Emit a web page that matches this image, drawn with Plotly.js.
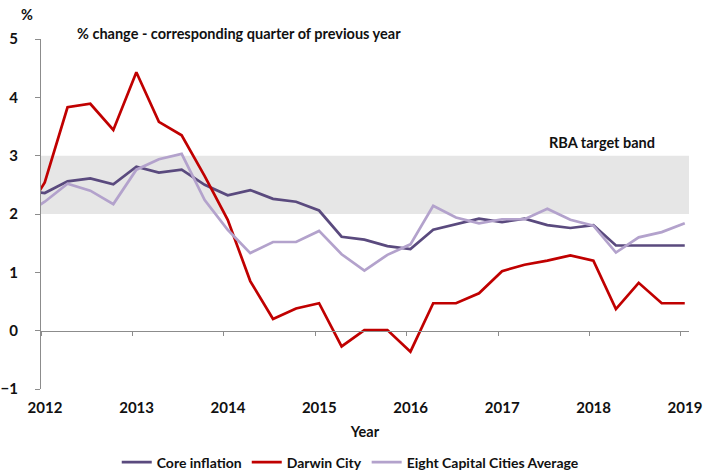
<!DOCTYPE html>
<html>
<head>
<meta charset="utf-8">
<script src="https://cdn.plot.ly/plotly-3.0.1.min.js"></script>
<style>html,body{margin:0;padding:0;background:#fff;}#chart{width:713px;height:474px;}</style>
</head>
<body>
<div id="chart"></div>
<script>
// Quarterly observations (Dec 2011 quarter first, plotted mid-month)
const quarters = [
  '2011-10-16',
  '2012-01-16','2012-04-16','2012-07-16','2012-10-16',
  '2013-01-16','2013-04-16','2013-07-16','2013-10-16',
  '2014-01-16','2014-04-16','2014-07-16','2014-10-16',
  '2015-01-16','2015-04-16','2015-07-16','2015-10-16',
  '2016-01-16','2016-04-16','2016-07-16','2016-10-16',
  '2017-01-16','2017-04-16','2017-07-16','2017-10-16',
  '2018-01-16','2018-04-16','2018-07-16','2018-10-16',
  '2019-01-16'
];
const coreInflation = [2.40,
  2.36,2.56,2.61,2.51, 2.81,2.71,2.76,2.50, 2.32,2.41,2.26,2.21,
  2.06,1.61,1.56,1.45, 1.40,1.73,1.82,1.92, 1.86,1.92,1.81,1.76,
  1.81,1.46,1.46,1.46, 1.46];
const darwinCity = [1.92,
  2.54,3.83,3.89,3.44, 4.43,3.58,3.35,2.65, 1.90,0.85,0.20,0.38,
  0.47,-0.27,0.01,0.01, -0.36,0.47,0.47,0.64, 1.02,1.13,1.20,1.29,
  1.20,0.37,0.82,0.47, 0.47];
const eightCapitals = [1.95,
  2.21,2.52,2.40,2.17, 2.76,2.94,3.03,2.24, 1.73,1.33,1.52,1.52,
  1.71,1.31,1.03,1.30, 1.48,2.14,1.94,1.84, 1.91,1.91,2.09,1.90,
  1.80,1.34,1.60,1.69, 1.84];
const seriesNames = ['Core inflation','Darwin City','Eight Capital Cities Average'];
const yearTicks = ['2012-01-01','2013-01-01','2014-01-01','2015-01-01','2016-01-01','2017-01-01','2018-01-01','2019-01-01'];
const yearLabels = ['2012','2013','2014','2015','2016','2017','2018','2019'];
const targetBand = [2, 3];
const xRange = ['2012-01-01','2019-02-02'];

const FONT = 'Lato, "Open Sans", sans-serif';
const colors = ['#5A4A7E','#C00000','#B3A2CC'];
const data = [coreInflation, darwinCity, eightCapitals].map((ys,i)=>({
  x: quarters, y: ys, name: seriesNames[i], type:'scatter', mode:'lines',
  line:{color:colors[i], width:2.7}, xaxis:'x', yaxis:'y'
}));
// helper trace so the zero-line axis (x2) is drawn
data.push({x: xRange, y:[null,null], xaxis:'x2', yaxis:'y', showlegend:false, hoverinfo:'skip', mode:'lines'});

const bold = (s)=>({family:FONT, size:s, color:'#111', weight:'bold'});
const layout = {
  width:713, height:474,
  margin:{l:41, r:24, t:39, b:85, autoexpand:false},
  paper_bgcolor:'#fff', plot_bgcolor:'#fff',
  font:{family:FONT, size:14, color:'#111'},
  showlegend:true,
  legend:{orientation:'h', x:0.478, xanchor:'center', y:-0.21, yanchor:'middle',
    font:bold(14), itemwidth:30, tracegroupgap:0},
  xaxis:{type:'date', range:xRange, tickmode:'array', tickvals:yearTicks, ticktext:yearLabels, automargin:false,
    showgrid:false, showline:false, zeroline:false, ticks:'', ticklabelshift:4, ticklabelstandoff:8,
    tickfont:bold(15),
    title:{text:'Year', font:bold(14.5), standoff:11}},
  xaxis2:{type:'date', range:xRange, overlaying:'x', anchor:'free', position:1/6, automargin:false,
    tickmode:'array', tickvals:yearTicks, showticklabels:false, ticks:'outside', ticklen:4,
    tickcolor:'#8c8c8c', showline:true, linecolor:'#8c8c8c', linewidth:1, showgrid:false, zeroline:false},
  yaxis:{range:[-1,5], tickmode:'array', tickvals:[-1,0,1,2,3,4,5], showgrid:false, zeroline:false, automargin:false,
    showline:true, linecolor:'#8c8c8c', linewidth:1, ticks:'outside', ticklen:5, tickcolor:'#8c8c8c',
    ticklabelstandoff:14, tickfont:bold(15)},
  shapes:[{type:'rect', xref:'paper', x0:0, x1:1, yref:'y', y0:targetBand[0], y1:targetBand[1],
    fillcolor:'#E6E6E6', line:{width:0}, layer:'below'}],
  annotations:[
    {text:'%', xref:'paper', yref:'paper', x:-0.022, y:1.07, xanchor:'center', yanchor:'middle', showarrow:false,
      font:bold(14.5)},
    {text:'% change - corresponding quarter of previous year', xref:'paper', yref:'paper', x:0.052, y:1.016,
      xanchor:'left', yanchor:'middle', showarrow:false, font:bold(14.5)},
    {text:'RBA target band', xref:'paper', yref:'y', x:0.95, y:3.23, xanchor:'right', yanchor:'middle',
      showarrow:false, font:bold(14.5)}
  ]
};
Plotly.newPlot('chart', data, layout, {displayModeBar:false, staticPlot:true});
</script>
</body>
</html>
